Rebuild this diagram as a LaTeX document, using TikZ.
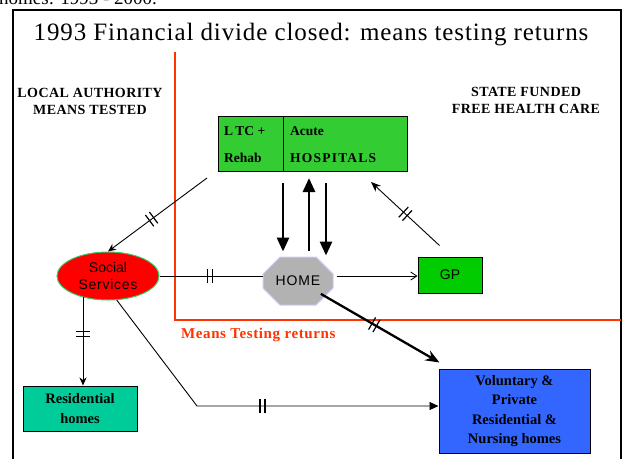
\documentclass[tikz,border=0pt]{standalone}
\usepackage{fontspec}
\setmainfont{Liberation Serif}
\setsansfont{Liberation Sans}
\usetikzlibrary{arrows.meta,shapes.geometric,shapes.misc,decorations.markings,calc}
\definecolor{ltcgreen}{HTML}{33CC33}
\definecolor{gpgreen}{HTML}{00CC00}
\definecolor{resteal}{HTML}{00CC99}
\definecolor{volblue}{HTML}{3366FF}
\definecolor{divred}{HTML}{FF3300}
\definecolor{ssborder}{HTML}{33CC66}
\definecolor{homegray}{HTML}{B2B2B2}
\definecolor{homeedge}{HTML}{CCCCFF}
\tikzset{
  hdr/.style={font=\fontsize{14}{17}\selectfont\bfseries, align=center, inner sep=0},
  boxtxt/.style={font=\fontsize{14.5}{19.5}\selectfont\bfseries, align=center},
  sanstxt/.style={font=\sffamily\fontsize{14}{17}\selectfont},
  lbl/.style={anchor=base west, font=\fontsize{13.5}{15}\selectfont\bfseries, inner sep=0},
  conn/.style={draw=black, line width=0.9pt},
  thickconn/.style={draw=black, line width=2.8pt},
  dbar/.style={postaction={decorate}, decoration={markings, mark=at position #1 with {\draw[-, line width=1.2pt] (-2.5pt,-7pt)--(-2.5pt,7pt) (2.5pt,-7pt)--(2.5pt,7pt);}}},
}
\begin{document}
\begin{tikzpicture}[x=1pt,y=-1pt]
\useasboundingbox (0,0) rectangle (626,458);
\begin{scope}
\clip (0,0) rectangle (626,458);
% partial caption line cut off at top
\node[anchor=base west, font=\fontsize{19}{20}\selectfont, inner sep=0] (cap) at (-1,4) {homes: 1993 - 2000.};
% frame
\draw[line width=1.6pt] (13,470) -- (13,10) -- (621,10) -- (621,470);
% title
\node[anchor=base, font=\fontsize{25}{27}\selectfont, inner sep=0] (title) at (311,40) {\addfontfeature{LetterSpace=3.5}1993 Financial divide closed: means testing returns};
% divide line
\coordinate (dtop) at (175,52);
\coordinate (dcorner) at (175,320);
\coordinate (dright) at (621,320);
\draw[divred, line width=1.5pt] (dtop) -- (dcorner) -- (dright);
\node[anchor=base west, text=divred, font=\fontsize{15}{16}\selectfont\bfseries, inner sep=0] (mt) at (181,338) {\addfontfeature{LetterSpace=4}Means Testing returns};
% headers
\node[hdr] (la) at (90,101) {\addfontfeature{LetterSpace=3}LOCAL AUTHORITY\\\addfontfeature{LetterSpace=3}MEANS TESTED};
\node[hdr] (sf) at (526,100) {\addfontfeature{LetterSpace=3}STATE FUNDED\\\addfontfeature{LetterSpace=3}FREE HEALTH CARE};
% hospital boxes
\node[draw, fill=ltcgreen, line width=1pt, minimum width=65pt, minimum height=55pt, anchor=north west, inner sep=0] (ltc) at (218,116) {};
\node[draw, fill=ltcgreen, line width=1pt, minimum width=124pt, minimum height=55pt, anchor=north west, inner sep=0] (acute) at (283,116) {};
\node[lbl] (t1) at (224,135) {L\,TC +};
\node[lbl] (t2) at (224,162) {Rehab};
\node[lbl] (t3) at (290,135) {Acute};
\node[lbl] (t4) at (290,162) {\addfontfeature{LetterSpace=9}HOSPITALS};
% HOME
\node[chamfered rectangle, chamfered rectangle xsep=10pt, chamfered rectangle ysep=12pt, fill=homegray, draw=homeedge, line width=1pt, minimum width=70pt, minimum height=48pt, inner sep=0, sanstxt] (home) at (298,281) {\addfontfeature{LetterSpace=6}HOME};
% GP
\node[draw, fill=gpgreen, line width=1pt, minimum width=64pt, minimum height=36pt, inner sep=0, sanstxt] (gp) at (450,275) {GP};
% Social services
\node[ellipse, fill=red, draw=ssborder, line width=1pt, minimum width=102pt, minimum height=48pt, inner sep=0, align=center, font=\sffamily\fontsize{14}{17}\selectfont] (ss) at (108,276) {Social\\\addfontfeature{LetterSpace=5}Services};
% Residential
\node[draw, fill=resteal, line width=1pt, minimum width=114pt, minimum height=45pt, inner sep=0, align=center, font=\fontsize{14.5}{20}\selectfont\bfseries] (res) at (80,408.5) {Residential\\homes};
% Voluntary
\node[draw, fill=volblue, line width=1pt, minimum width=151pt, minimum height=84pt, inner sep=0, boxtxt] (vol) at (514.5,411) {Voluntary \&\\Private\\Residential \&\\Nursing homes};
% connectors
\coordinate (ltcfoot) at ($(ltc.south west)+(-11,6)$);
\draw[conn, dbar=0.56, -{Stealth[length=8pt,width=7pt]}] (ltcfoot) -- (ss.north);
\draw[conn, dbar=0.49] (ss.east) -- (home.west |- ss.east);
\draw[conn, -{Straight Barb[length=6pt,width=8pt]}] ($(home.east |- ss.east)+(3,0)$) -- (gp.west |- ss.east);
\coordinate (gpfoot) at ($(gp.north west)+(22,-11)$);
\draw[conn, dbar=0.5, -{Stealth[length=10pt,width=8pt]}] (gpfoot) -- ($(acute.south east)+(-37,10)$);
\draw[thickconn, -{Triangle[length=14pt,width=12pt]}] ($(acute.south west)+(0,11)$) -- ($(home.north)+(-15,-5)$);
\draw[thickconn, -{Triangle[length=14pt,width=12pt]}] ($(home.north)+(11,-6)$) -- ($(acute.south west)+(26,6)$);
\draw[thickconn, -{Triangle[length=14pt,width=12pt]}] ($(acute.south west)+(43,11)$) -- ($(home.north)+(28,-1)$);
\draw[line width=2.3pt, dbar=0.45, -{Stealth[length=14pt,width=11pt]}] ($(home.south east)+(-4,-3)$) -- ($(vol.north west)+(1,-6)$);
\draw[conn, dbar=0.42, -{Stealth[length=8pt,width=7pt]}] ($(ss.south -| res.north)+(3,-4)$) -- ($(res.north)+(3,0)$);
\coordinate (bend) at (197,406);
\draw[conn, dbar=0.53, -{Triangle[length=9pt,width=8pt]}] (ss.-70) -- (bend) -- (vol.west |- bend);
\end{scope}
\end{tikzpicture}
\end{document}
